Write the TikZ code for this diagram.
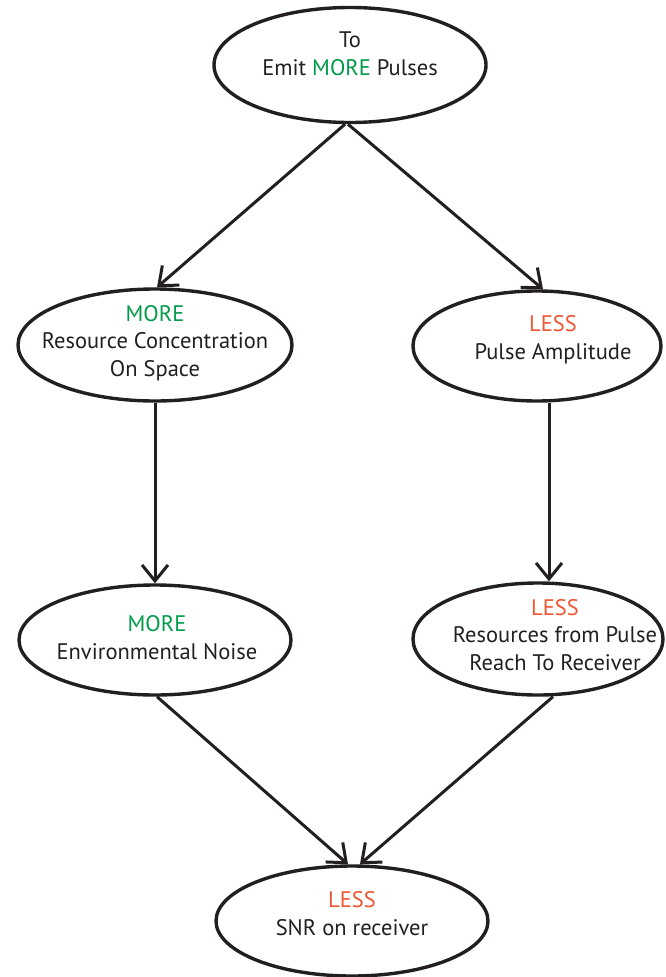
\documentclass[tikz,border=0pt]{standalone}
\usepackage{fontspec}
\setmainfont{PT Sans}
\usetikzlibrary{arrows.meta,shapes.geometric}
\definecolor{ink}{RGB}{35,31,32}
\definecolor{moregreen}{RGB}{0,155,72}
\definecolor{lessred}{RGB}{240,84,50}
\tikzset{
  oval/.style={ellipse, draw=ink, line width=3.4pt, inner sep=0pt},
  txt/.style={align=center, text=ink, font=\fontsize{22.5}{27.5}\selectfont, inner sep=0pt},
  conn/.style={draw=ink, line width=3pt, -{Straight Barb[length=16pt,width=26pt,line width=3pt]}},
}
\newcommand{\more}{\textcolor{moregreen}{MORE}}
\newcommand{\less}{\textcolor{lessred}{LESS}}
\begin{document}
\begin{tikzpicture}[x=1pt,y=-1pt]
\useasboundingbox (0,0) rectangle (665,977);
\node[oval, minimum width=272pt, minimum height=115pt] (top) at (350,65) {};
\node[oval, minimum width=274pt, minimum height=112pt] (lm) at (155,345) {};
\node[oval, minimum width=248pt, minimum height=110pt] (rm) at (537,346) {};
\node[oval, minimum width=272pt, minimum height=110pt] (ll) at (155,640) {};
\node[oval, minimum width=250pt, minimum height=112pt] (rl) at (538,639) {};
\node[oval, minimum width=272pt, minimum height=110pt] (bot) at (352,921) {};

\node[txt] (topT) at ([yshift=11pt]top.center) {To\\Emit \more{} Pulses};
\node[txt] (lmT) at ([yshift=2pt]lm.center) {\more\\Resource Concentration\\On Space};
\node[txt] (rmT) at ([xshift=16pt,yshift=6.5pt]rm.center) {\less\\Pulse Amplitude};
\node[txt] (llT) at ([xshift=2pt,yshift=2.5pt]ll.center) {\more\\Environmental Noise};
\node[txt] (rlT) at ([xshift=17pt,yshift=4pt]rl.center) {\less\\Resources from Pulse\\Reach To Receiver};
\node[txt] (botT) at ([yshift=7.5pt]bot.center) {\less\\SNR on receiver};

\draw[conn] ([xshift=-5pt]top.south) -- ([xshift=2pt]lm.north);
\draw[conn] ([xshift=-2pt]top.south) -- ([xshift=6pt]rm.north);
\draw[conn] (lm.south) -- (ll.north);
\draw[conn] ([xshift=12pt]rm.south) -- ([xshift=11pt]rl.north);
\draw[conn] ([xshift=2pt]ll.south) -- ([xshift=-4pt]bot.north);
\draw[conn] ([xshift=15pt]rl.south) -- ([xshift=8pt]bot.north);
\end{tikzpicture}
\end{document}
